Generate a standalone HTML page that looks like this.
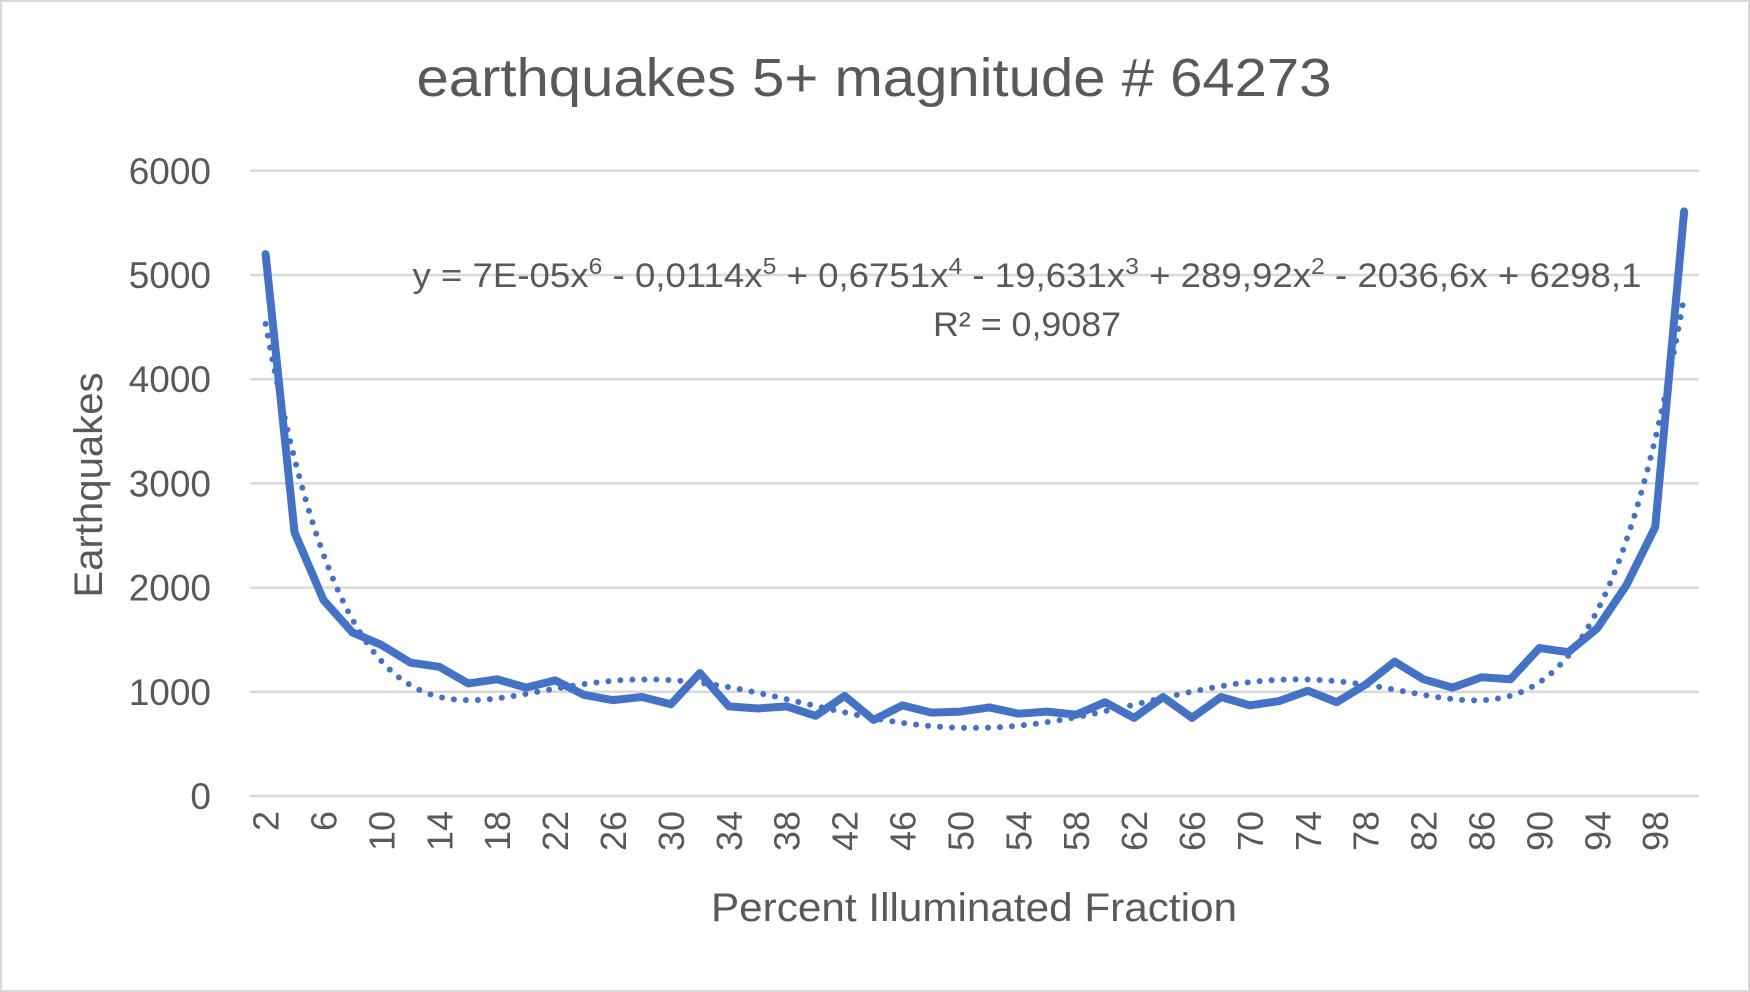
<!DOCTYPE html>
<html><head><meta charset="utf-8">
<style>
body{margin:0;background:#fff;}
svg{display:block;font-family:"Liberation Sans",sans-serif;}
</style></head>
<body>
<svg id="c" width="1750" height="992" viewBox="0 0 1750 992">
<rect x="1" y="1" width="1748" height="990" fill="#fff" stroke="#d9d9d9" stroke-width="2"/>
<text x="874" y="96" text-anchor="middle" font-size="54" textLength="915" lengthAdjust="spacingAndGlyphs" fill="#595959">earthquakes 5+ magnitude # 64273</text>
<g id="grid"></g><g id="yt"></g><g id="xt"></g>
<g id="series"></g>
<text transform="translate(102,485) rotate(-90)" text-anchor="middle" font-size="40" textLength="225" lengthAdjust="spacingAndGlyphs" fill="#595959">Earthquakes</text>
<text x="974" y="921" text-anchor="middle" font-size="40" textLength="526" lengthAdjust="spacingAndGlyphs" fill="#595959">Percent Illuminated Fraction</text>
<text x="1027" y="287" text-anchor="middle" font-size="34" textLength="1229" lengthAdjust="spacingAndGlyphs" fill="#595959">y = 7E-05x<tspan dy="-13" font-size="23">6</tspan><tspan dy="13"> - 0,0114x</tspan><tspan dy="-13" font-size="23">5</tspan><tspan dy="13"> + 0,6751x</tspan><tspan dy="-13" font-size="23">4</tspan><tspan dy="13"> - 19,631x</tspan><tspan dy="-13" font-size="23">3</tspan><tspan dy="13"> + 289,92x</tspan><tspan dy="-13" font-size="23">2</tspan><tspan dy="13"> - 2036,6x + 6298,1</tspan></text>
<text x="1027" y="336" text-anchor="middle" font-size="34" textLength="188" lengthAdjust="spacingAndGlyphs" fill="#595959">R² = 0,9087</text>
</svg>
<script>
const categories=[2,4,6,8,10,12,14,16,18,20,22,24,26,28,30,32,34,36,38,40,42,44,46,48,50,52,54,56,58,60,62,64,66,68,70,72,74,76,78,80,82,84,86,88,90,92,94,96,98,100];
const quakes=[5200,2530,1880,1570,1450,1280,1240,1080,1120,1040,1110,970,920,950,880,1180,860,840,860,770,960,730,870,800,810,850,790,810,780,900,750,950,750,950,870,910,1010,900,1070,1290,1120,1040,1140,1120,1420,1380,1610,2020,2580,5610];
const yTicks=[0,1000,2000,3000,4000,5000,6000];
const xTickLabels=[2,6,10,14,18,22,26,30,34,38,42,46,50,54,58,62,66,70,74,78,82,86,90,94,98];
const NS="http://www.w3.org/2000/svg";
const X0=265.6,XS=28.95,Y0=796,YS=104.2/1000;
const xAt=c=>X0+(c-categories[0])/2*XS;
const yAt=v=>Y0-v*YS;
function mk(t,a,p){const e=document.createElementNS(NS,t);for(const k in a)e.setAttribute(k,a[k]);document.getElementById(p).appendChild(e);return e;}
yTicks.forEach(v=>{
  const l=mk('line',{x1:250,x2:1699,y1:yAt(v),y2:yAt(v),stroke:'#d9d9d9','stroke-width':2.5},'grid');
  
  
  const t=mk('text',{x:211,y:yAt(v)+13,'text-anchor':'end','font-size':37,fill:'#595959'},'yt');
  t.textContent=v;
  
  
});
xTickLabels.forEach(c=>{
  const x=xAt(c);
  const t=mk('text',{transform:`translate(${x+13},811) rotate(-90)`,'text-anchor':'end','font-size':36,fill:'#595959'},'xt');
  t.textContent=c;
  
  
});
const n=quakes.length,deg=6;
const u=i=>(i-(n-1)/2)/((n-1)/2);
const A=[];for(let r=0;r<=deg;r++){A.push(new Array(deg+2).fill(0));}
for(let i=0;i<n;i++){const p=[];for(let k=0;k<=2*deg;k++)p.push(Math.pow(u(i),k));
 for(let r=0;r<=deg;r++){for(let c=0;c<=deg;c++)A[r][c]+=p[r+c];A[r][deg+1]+=p[r]*quakes[i];}}
for(let c=0;c<=deg;c++){let m=c;for(let r=c+1;r<=deg;r++)if(Math.abs(A[r][c])>Math.abs(A[m][c]))m=r;[A[c],A[m]]=[A[m],A[c]];
 for(let r=0;r<=deg;r++)if(r!==c){const f=A[r][c]/A[c][c];for(let k=c;k<=deg+1;k++)A[r][k]-=f*A[c][k];}}
const coef=A.map((row,i)=>row[deg+1]/row[i]);
const fit=t=>coef.reduce((s,c,k)=>s+c*Math.pow(t,k),0);
let td='';for(let s=0;s<=(n-1)*8;s++){const i=s/8;td+=(s?'L':'M')+(X0+i*XS).toFixed(2)+','+yAt(fit(u(i))).toFixed(2);}
const tl=mk('path',{d:td,fill:'none',stroke:'#4472C4','stroke-width':6,'stroke-linecap':'round','stroke-dasharray':'0 12'},'series');


const d=categories.map((c,i)=>(i?'L':'M')+xAt(c)+','+yAt(quakes[i])).join('');
const ln=mk('path',{d:d,fill:'none',stroke:'#4472C4','stroke-width':8,'stroke-linejoin':'round','stroke-linecap':'round'},'series');


</script>
</body></html>
